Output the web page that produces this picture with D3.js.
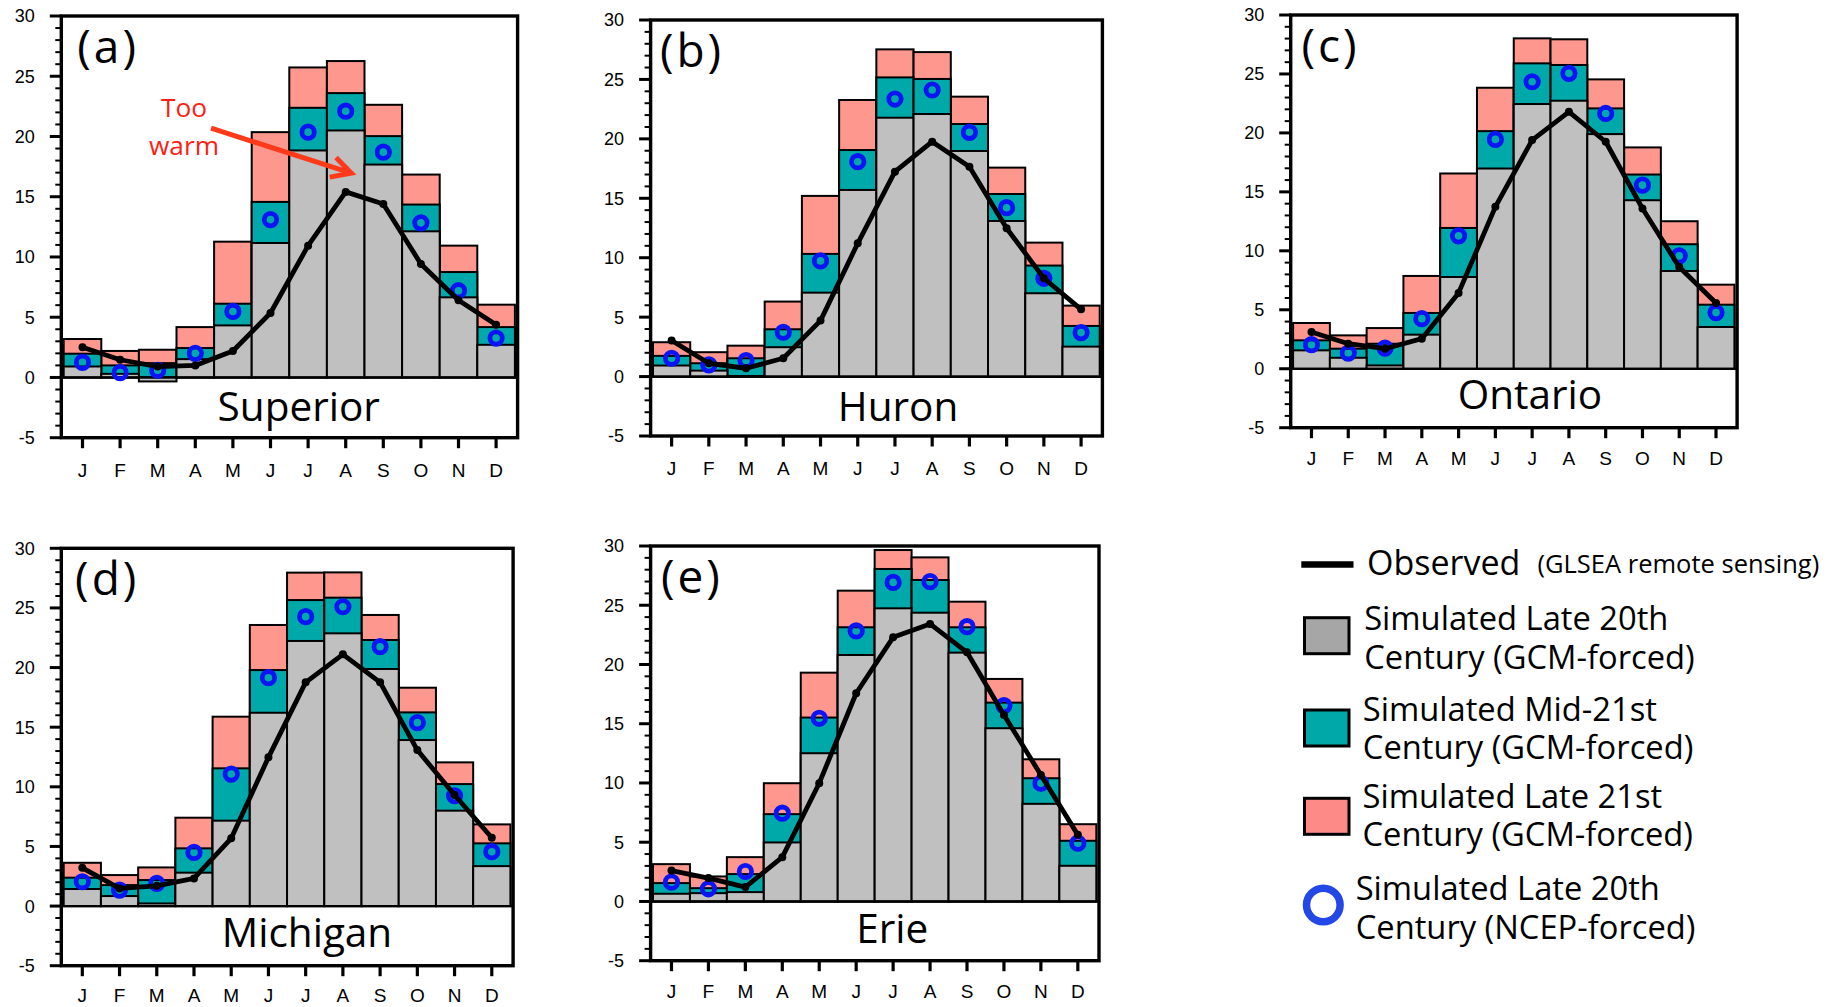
<!DOCTYPE html>
<html><head><meta charset="utf-8">
<script src="https://cdn.jsdelivr.net/npm/d3@7"></script>
<style>html,body{margin:0;padding:0;background:#fff;} svg{display:block}</style>
</head><body><svg id="chart" width="1837" height="1007"></svg>
<script>
// ---------------- data ----------------
const months = ["J","F","M","A","M","J","J","A","S","O","N","D"];
const yTicks = [-5,0,5,10,15,20,25,30];

const superiorLate20 = [0.91,0.30,-0.33,1.52,4.32,11.16,18.84,20.5,17.67,12.13,6.65,2.71];
const superiorMid21  = [1.97,1.00,1.19,2.44,6.12,14.57,22.38,23.6,20.03,14.35,8.75,4.18];
const superiorLate21 = [3.19,2.20,2.30,4.18,11.27,20.36,25.73,26.26,22.63,16.84,10.94,6.04];
const superiorNCEP   = [1.25,0.40,0.60,2.00,5.48,13.10,20.36,22.1,18.70,12.83,7.20,3.27];
const superiorObs    = [2.50,1.47,0.90,1.00,2.20,5.35,10.94,15.4,14.40,9.42,6.40,4.38];

const huronLate20 = [0.93,0.50,0.05,2.47,7.06,15.70,21.78,22.09,18.98,13.09,7.01,2.52];
const huronMid21  = [1.74,1.12,1.54,3.98,10.32,19.06,25.17,25.04,21.25,15.36,9.34,4.26];
const huronLate21 = [2.89,2.05,2.60,6.31,15.20,23.27,27.53,27.30,23.55,17.58,11.27,5.97];
const huronNCEP   = [1.54,0.98,1.35,3.73,9.73,18.08,23.35,24.11,20.55,14.21,8.27,3.70];
const huronObs    = [3.03,1.12,0.70,1.54,4.71,11.21,17.24,19.76,17.66,12.48,8.27,5.66];

const ontarioLate20 = [1.56,0.93,0.28,2.89,7.78,16.98,22.45,22.73,19.90,14.29,8.29,3.54];
const ontarioMid21  = [2.41,1.70,2.12,4.73,11.94,20.15,25.90,25.76,22.08,16.47,10.56,5.43];
const ontarioLate21 = [3.88,2.83,3.45,7.87,16.56,23.83,28.02,27.94,24.54,18.77,12.51,7.13];
const ontarioNCEP   = [2.04,1.33,1.75,4.25,11.27,19.45,24.34,25.05,21.65,15.57,9.57,4.76];
const ontarioObs    = [3.11,2.12,1.70,2.55,6.43,13.73,19.39,21.79,19.25,13.59,8.63,5.58];

const michiganLate20 = [1.43,0.84,0.22,2.80,7.16,16.21,22.23,22.87,19.88,13.92,8.00,3.35];
const michiganMid21  = [2.38,1.76,2.18,4.84,11.55,19.79,25.66,25.86,22.31,16.24,10.23,5.26];
const michiganLate21 = [3.63,2.60,3.24,7.41,15.88,23.57,27.96,27.98,24.41,18.31,12.05,6.85];
const michiganNCEP   = [2.04,1.34,1.90,4.50,11.07,19.15,24.27,25.10,21.75,15.38,9.25,4.56];
const michiganObs    = [3.21,1.48,1.70,2.32,5.68,12.47,18.76,21.11,18.76,13.08,9.31,5.73];

const erieLate20 = [0.65,0.70,0.79,4.98,12.51,20.80,24.74,24.37,21.00,14.62,8.24,3.01];
const erieMid21  = [1.55,1.12,2.31,7.37,15.52,23.14,28.06,27.13,23.14,16.78,10.40,5.12];
const erieLate21 = [3.15,2.11,3.74,9.98,19.31,26.23,29.66,29.04,25.30,18.78,12.00,6.52];
const erieNCEP   = [1.63,1.07,2.53,7.45,15.46,22.83,26.93,26.99,23.19,16.53,9.98,4.92];
const erieObs    = [2.61,1.97,1.21,3.74,9.98,17.57,22.29,23.42,21.03,15.74,10.68,5.62];

const panelLabels = ["(a)","(b)","(c)","(d)","(e)"];
const lakeNames = ["Superior","Huron","Ontario","Michigan","Erie"];

const legendLabels = [
  ["Simulated Late 20th","Century (GCM-forced)"],
  ["Simulated Mid-21st","Century (GCM-forced)"],
  ["Simulated Late 21st","Century (GCM-forced)"],
  ["Simulated Late 20th","Century (NCEP-forced)"]
];

// ---------------- layout / style ----------------
const lakes = [
  {late20:superiorLate20, mid21:superiorMid21, late21:superiorLate21, ncep:superiorNCEP, obs:superiorObs},
  {late20:huronLate20, mid21:huronMid21, late21:huronLate21, ncep:huronNCEP, obs:huronObs},
  {late20:ontarioLate20, mid21:ontarioMid21, late21:ontarioLate21, ncep:ontarioNCEP, obs:ontarioObs},
  {late20:michiganLate20, mid21:michiganMid21, late21:michiganLate21, ncep:michiganNCEP, obs:michiganObs},
  {late20:erieLate20, mid21:erieMid21, late21:erieLate21, ncep:erieNCEP, obs:erieObs}
];
const layout = [
  {left:61.3,  right:517.6,  top:16,    bottom:437.7, labelDx:16,   nameDx:9.3,  nameY:-3.6,  monthDy:39},
  {left:650.6, right:1102.4, top:20,    bottom:436,   labelDx:9.3,  nameDx:21.5, nameY:-3.75, monthDy:39},
  {left:1290.7,right:1737.1, top:15,    bottom:427.7, labelDx:10.7, nameDx:16,   nameY:-3.4,  monthDy:37.3},
  {left:61.3,  right:513.1,  top:548.3, bottom:965.7, labelDx:13.8, nameDx:19.8, nameY:-3.45, monthDy:36.6},
  {left:650.6, right:1099,   top:546,   bottom:960.7, labelDx:10.3, nameDx:17.4, nameY:-3.5,  monthDy:37.4}
];
const COL = {grey:"#c0c0c0", teal:"#00a9a9", pink:"#fe978d", blue:"#0a14f5", red:"#ff1e14"};
const SANS = "'Open Sans', 'Noto Sans', sans-serif";
const ARIAL = "'Liberation Sans', Arial, sans-serif";

const svg = d3.select("#chart");
svg.append("rect").attr("width",1837).attr("height",1007).attr("fill","#fff");

lakes.forEach((lake, p) => {
  const L = layout[p];
  const g = svg.append("g");
  const x = d3.scaleBand().domain(d3.range(12)).range([L.left+2.4, L.right-2.7]).padding(0);
  const y = d3.scaleLinear().domain([-5,30]).range([L.bottom, L.top]);
  const cx = i => x(i)+x.bandwidth()/2;

  // bars: pink (late 21st), teal (mid 21st), grey (late 20th) each from zero
  const series = [[lake.late21, COL.pink],[lake.mid21, COL.teal],[lake.late20, COL.grey]];
  series.forEach(([vals, col]) => {
    g.selectAll(null).data(vals).enter().append("rect")
      .attr("x",(d,i)=>x(i)).attr("width",x.bandwidth())
      .attr("y",d=>Math.min(y(d),y(0))).attr("height",d=>Math.abs(y(d)-y(0)))
      .attr("fill",col).attr("stroke","#000").attr("stroke-width",2);
  });

  // zero line
  g.append("line").attr("x1",L.left).attr("x2",L.right).attr("y1",y(0)).attr("y2",y(0))
    .attr("stroke","#000").attr("stroke-width",2.2);

  // NCEP circles
  g.selectAll(null).data(lake.ncep).enter().append("circle")
    .attr("cx",(d,i)=>cx(i)).attr("cy",d=>y(d)).attr("r",6.2)
    .attr("fill","none").attr("stroke",COL.blue).attr("stroke-width",4.8);

  // observed line
  const line = d3.line().x((d,i)=>cx(i)).y(d=>y(d));
  g.append("path").datum(lake.obs).attr("d",line).attr("fill","none")
    .attr("stroke","#000").attr("stroke-width",4.8).attr("stroke-linejoin","round");
  g.selectAll(null).data(lake.obs).enter().append("circle")
    .attr("cx",(d,i)=>cx(i)).attr("cy",d=>y(d)).attr("r",4).attr("fill","#000");

  // frame
  g.append("rect").attr("x",L.left).attr("y",L.top).attr("width",L.right-L.left).attr("height",L.bottom-L.top)
    .attr("fill","none").attr("stroke","#000").attr("stroke-width",3.4);

  // y ticks: minor every 1, major every 5
  const minor = d3.range(-5,31,1);
  g.selectAll(null).data(minor).enter().append("line")
    .attr("x1",d=>L.left-(d%5===0?11.5:6)).attr("x2",L.left)
    .attr("y1",d=>y(d)).attr("y2",d=>y(d))
    .attr("stroke","#000").attr("stroke-width",d=>d%5===0?3:2);
  g.selectAll(null).data(yTicks).enter().append("text")
    .attr("x",L.left-26.5).attr("y",d=>y(d)).attr("dy","0.36em").attr("text-anchor","end")
    .attr("font-family",ARIAL).attr("font-size",18).attr("fill","#000").text(d=>d);

  // x ticks + month labels
  g.selectAll(null).data(months).enter().append("line")
    .attr("x1",(d,i)=>cx(i)).attr("x2",(d,i)=>cx(i))
    .attr("y1",L.bottom).attr("y2",L.bottom+10.5).attr("stroke","#000").attr("stroke-width",3.2);
  g.selectAll(null).data(months).enter().append("text")
    .attr("x",(d,i)=>cx(i)).attr("y",L.bottom+L.monthDy).attr("text-anchor","middle")
    .attr("font-family",ARIAL).attr("font-size",19).attr("fill","#000").text(d=>d);

  // panel label + lake name
  g.append("text").attr("x",L.left+L.labelDx).attr("y",L.top+47)
    .attr("font-family",SANS).attr("font-size",46).attr("letter-spacing",3).attr("fill","#000").text(panelLabels[p]);
  g.append("text").attr("x",(L.left+L.right)/2+L.nameDx).attr("y",y(L.nameY)).attr("text-anchor","middle")
    .attr("font-family",SANS).attr("font-size",40.5).attr("fill","#000").text(lakeNames[p]);

  // annotation on Superior
  if (p===0) {
    const ax = v => x(0) + v*x.bandwidth();
    const t = g.append("text").attr("text-anchor","middle")
      .attr("font-family",SANS).attr("font-size",26.3).attr("fill",COL.red);
    t.append("tspan").attr("x",ax(3.2)).attr("y",y(21.6)).text("Too");
    t.append("tspan").attr("x",ax(3.2)).attr("y",y(18.5)).text("warm");
    const tail=[ax(3.92),y(20.7)], tip=[ax(7.65),y(16.95)];
    const ang=Math.atan2(tip[1]-tail[1],tip[0]-tail[0]);
    const hl=22, ha=0.49;
    const a1=[tip[0]-hl*Math.cos(ang-ha), tip[1]-hl*Math.sin(ang-ha)];
    const a2=[tip[0]-hl*Math.cos(ang+ha), tip[1]-hl*Math.sin(ang+ha)];
    g.append("path").attr("d",`M${tail}L${tip}M${a1}L${tip}L${a2}`)
      .attr("fill","none").attr("stroke","#ff3a1a").attr("stroke-width",5).attr("stroke-linecap","butt").attr("stroke-linejoin","miter");
  }
});

// ---------------- legend ----------------
const lg = svg.append("g");
lg.append("line").attr("x1",1301.3).attr("x2",1353.5).attr("y1",564.5).attr("y2",564.5)
  .attr("stroke","#000").attr("stroke-width",6.5);
const obsText = lg.append("text").attr("y",575).attr("font-family",SANS).attr("fill","#000");
obsText.append("tspan").attr("x",1367).attr("font-size",34).text("Observed");
obsText.append("tspan").attr("x",1537.5).attr("y",572.5).attr("font-size",25.5).text("(GLSEA remote sensing)");

const legItems = [
  {fill:"#a6a6a6", y:617.7, tx:1364.2, ty:630},
  {fill:"#00a8a8", y:710,   tx:1362.8, ty:720.5},
  {fill:"#fe8a88", y:798.3, tx:1362.5, ty:807.5},
  {ring:true, tx:1355.7, ty:900}
];
legItems.forEach((b,i)=>{
  if (b.ring) {
    lg.append("circle").attr("cx",1323.3).attr("cy",905).attr("r",16.8)
      .attr("fill","none").attr("stroke","#2448e6").attr("stroke-width",7.5);
  } else {
    lg.append("rect").attr("x",1304.5).attr("y",b.y).attr("width",44.5).attr("height",36)
      .attr("fill",b.fill).attr("stroke","#000").attr("stroke-width",3);
  }
  const t = lg.append("text").attr("font-family",SANS).attr("font-size",32.7).attr("fill","#000");
  t.append("tspan").attr("x",b.tx).attr("y",b.ty).text(legendLabels[i][0]);
  t.append("tspan").attr("x",b.tx).attr("y",b.ty+38.5).text(legendLabels[i][1]);
});
</script></body></html>
